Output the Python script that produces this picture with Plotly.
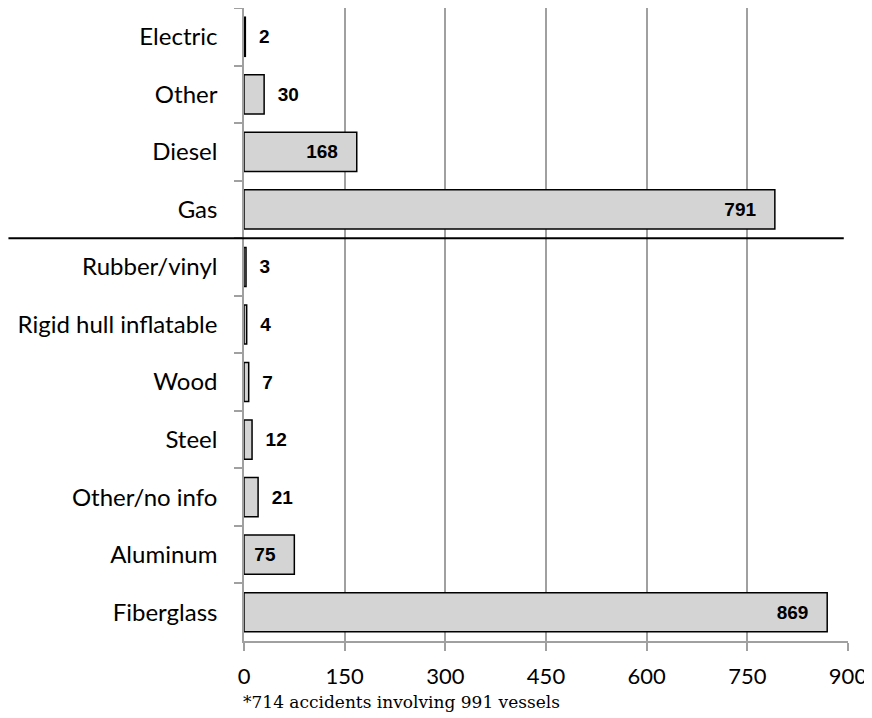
import plotly.graph_objects as go

categories = ["Electric", "Other", "Diesel", "Gas",
              "Rubber/vinyl", "Rigid hull inflatable", "Wood", "Steel",
              "Other/no info", "Aluminum", "Fiberglass"]
values = [2, 30, 168, 791, 3, 4, 7, 12, 21, 75, 869]
label_inside = [False, False, True, True, False, False, False, False, False, True, True]
x_ticks = [0, 150, 300, 450, 600, 750, 900]
footnote = "*714 accidents involving 991 vessels"

positions = ["inside" if f else "outside" for f in label_inside]
texts = [f"{v}   " if f else f"  {v}" for v, f in zip(values, label_inside)]

fig = go.Figure(go.Bar(
    x=values, y=categories, orientation="h",
    marker=dict(color="#d4d4d4", line=dict(color="black", width=1.5)),
    text=texts, textposition=positions, insidetextanchor="end",
    textfont=dict(family="Liberation Sans, Arial", size=19, color="black", weight="bold"),
    cliponaxis=False,
))

fig.update_layout(
    width=864, height=710,
    margin=dict(l=236, r=24, t=0, b=77, autoexpand=False),
    plot_bgcolor="white", paper_bgcolor="white",
    bargap=0.32, showlegend=False,
    font=dict(family="Lato, Carlito, sans-serif", size=20, color="black"),
)
fig.update_xaxes(
    range=[0, 900], tickvals=x_ticks, ticktext=[str(t) for t in x_ticks],
    showgrid=True, gridcolor="#a0a0a0", gridwidth=1.5,
    showline=True, linecolor="#a0a0a0", linewidth=1.5,
    ticks="outside", ticklen=8, tickcolor="#a0a0a0", tickwidth=1.5,
    zeroline=False, tickfont=dict(size=22), ticklabelstandoff=7,
)
fig.update_yaxes(
    autorange="reversed", type="category",
    showline=True, linecolor="#a0a0a0", linewidth=1.5,
    ticks="outside", tickson="boundaries", ticklen=8, tickcolor="#a0a0a0", tickwidth=1.5,
    showgrid=False, tickfont=dict(size=24), ticklabelstandoff=20,
)
fig.add_shape(type="line", xref="paper", yref="y",
              x0=-0.39, x1=0.993, y0=3.5, y1=3.5,
              line=dict(color="black", width=2))
fig.add_annotation(text=footnote, xref="paper", yref="paper", x=-0.005, y=-0.078,
                   xanchor="left", yanchor="top", showarrow=False,
                   font=dict(family="DejaVu Serif, serif", size=17, color="black"))

fig.write_html("out.html")
